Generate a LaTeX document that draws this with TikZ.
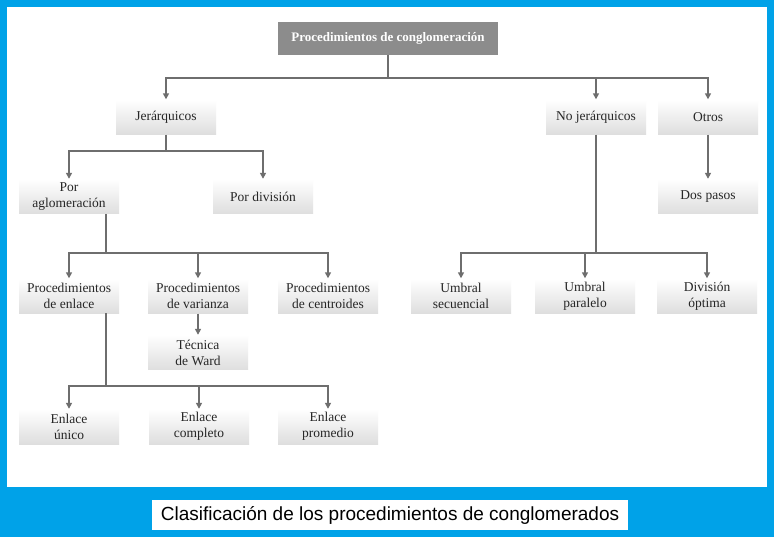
\documentclass[tikz,border=0pt]{standalone}
\usepackage{fontspec}
\setmainfont{Liberation Serif}
\newfontfamily\capfont{Liberation Sans}
\usetikzlibrary{arrows.meta}
\definecolor{frameblue}{HTML}{00A2E8}
\definecolor{lin}{HTML}{6E6E6E}
\begin{document}
\begin{tikzpicture}[x=1pt,y=-1pt,
  bx/.style={minimum width=100pt,minimum height=35pt,top color=white,bottom color=black!13,draw=none,inner sep=1pt,align=center,font=\fontsize{13.5}{16}\selectfont,text=black!85},
  ln/.style={draw=lin,line width=2pt},
  ar/.style={ln,-{Triangle[width=6pt,length=6pt]}}]
\fill[frameblue] (0,0) rectangle (774,537);
\fill[white] (7,7) rectangle (767,487);
\node[fill=white,minimum width=476pt,minimum height=30pt,font=\capfont\fontsize{19}{21}\selectfont] (cap) at (390,515) {Clasificación de los procedimientos de conglomerados};
\node[fill=black!45,minimum width=220pt,minimum height=33pt,text=white,font=\bfseries\fontsize{13}{15}\selectfont] (top) at (388,38.5) {Procedimientos de conglomeración};
\node[bx] (jer) at (166,117) {Jerárquicos};
\node[bx] (noj) at (596,117) {No jerárquicos};
\node[bx] (otr) at (708,117) {Otros};
\node[bx] (agl) at (69,196.5) {Por\\aglomeración};
\node[bx] (div) at (263,196.5) {Por división};
\node[bx] (dos) at (708,196.5) {Dos pasos};
\node[bx] (enl) at (69,296) {Procedimientos\\de enlace};
\node[bx] (var) at (198,296) {Procedimientos\\de varianza};
\node[bx] (cen) at (328,296) {Procedimientos\\de centroides};
\node[bx] (us) at (461,296) {Umbral\\secuencial};
\node[bx] (up) at (585,296) {Umbral\\paralelo};
\node[bx] (do) at (707,296) {División\\óptima};
\node[bx] (war) at (198,352.5) {Técnica\\de Ward};
\node[bx] (eu) at (69,426.5) {Enlace\\único};
\node[bx] (ec) at (199,426.5) {Enlace\\completo};
\node[bx] (ep) at (328,426.5) {Enlace\\promedio};
\coordinate (j1) at (388,78);
\draw[ln] (top.south) -- (j1);
\draw[ar] (j1) -| (jer.north);
\draw[ar] (j1) -| (otr.north);
\draw[ar] (noj.north |- j1) -- (noj.north);
\coordinate (j2) at (166,151);
\draw[ln] (jer.south) -- (j2);
\draw[ar] (j2) -| (agl.north);
\draw[ar] (j2) -| (div.north);
\coordinate (a0) at (106,214);
\coordinate (a1) at (106,253);
\draw[ln] (a0) -- (a1);
\draw[ar] (a1) -| (enl.north);
\draw[ar] (a1) -| (cen.north);
\draw[ar] (var.north |- a1) -- (var.north);
\coordinate (n1) at (596,253);
\draw[ln] (noj.south) -- (n1);
\draw[ar] (n1) -| (us.north);
\draw[ar] (n1) -| (do.north);
\draw[ar] (up.north |- n1) -- (up.north);
\draw[ar] (otr.south) -- (dos.north);
\draw[ar] (var.south) -- (war.north);
\coordinate (e0) at (106,313.5);
\coordinate (e1) at (106,386);
\draw[ln] (e0) -- (e1);
\draw[ar] (e1) -| (eu.north);
\draw[ar] (e1) -| (ep.north);
\draw[ar] (ec.north |- e1) -- (ec.north);
\end{tikzpicture}
\end{document}
